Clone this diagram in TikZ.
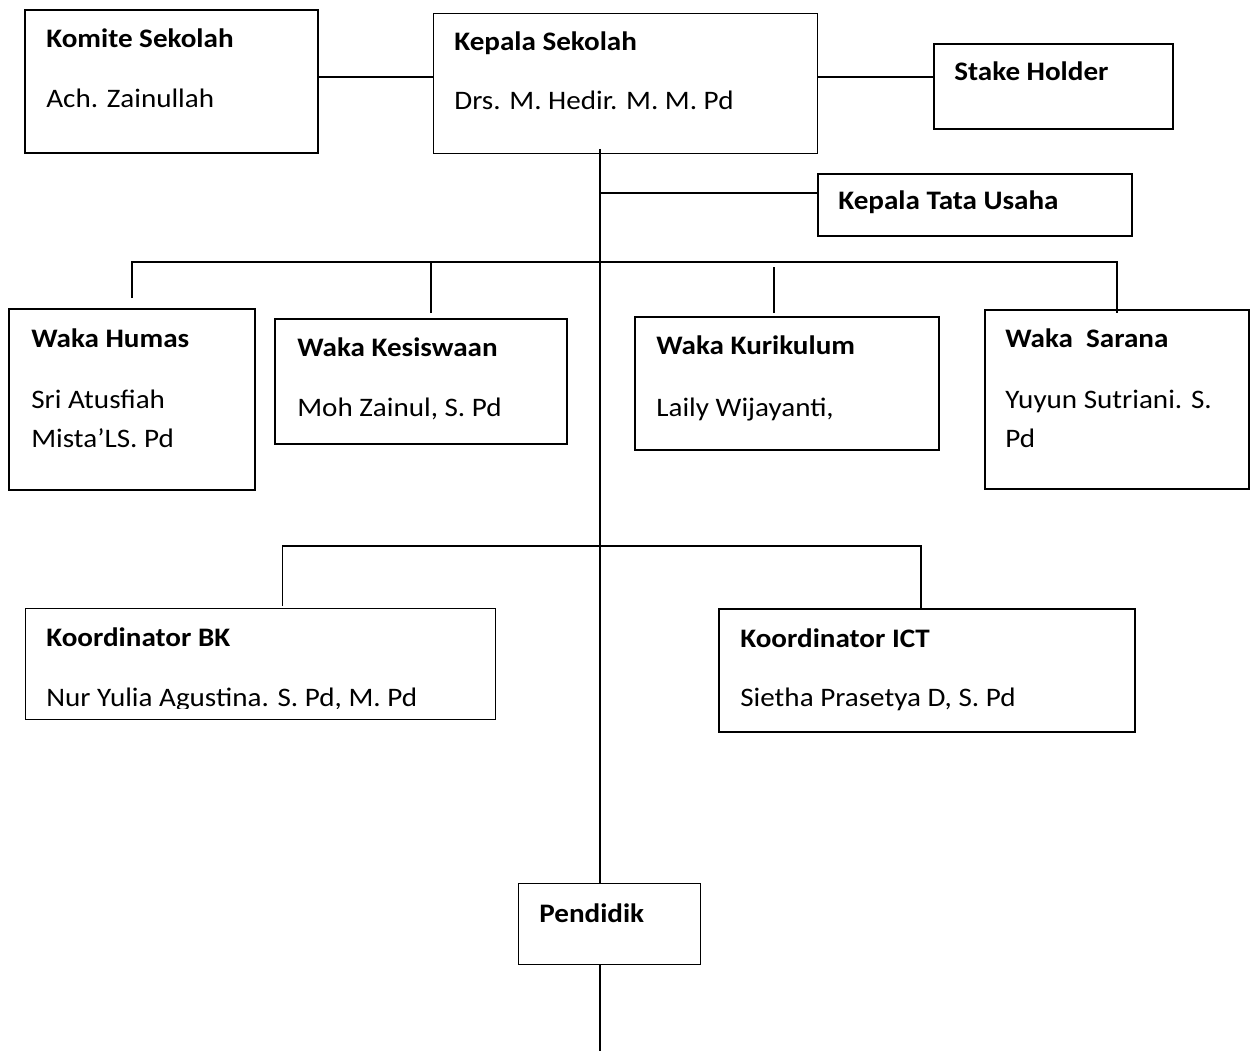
\documentclass[tikz,border=0pt]{standalone}
\usepackage{fontspec}
\setmainfont{Carlito}[FakeStretch=1.09]
\begin{document}
\begin{tikzpicture}[x=0.02cm,y=-0.02cm,
    box/.style={draw,line width=1.1pt,anchor=north west,inner sep=0pt},
    thinbox/.style={box,line width=0.7pt},
    link/.style={line width=0.7pt},
    heading/.style={anchor=base west,inner sep=0pt,font=\bfseries\fontsize{15.2}{18}\selectfont},
    person/.style={anchor=base west,inner sep=0pt,font=\fontsize{15.2}{18}\selectfont}]
    \useasboundingbox[fill=white] (0,0) rectangle (1255,1051);
    % boxes
    \node[box, minimum width=5.86cm, minimum height=2.86cm] (komite) at (24,9) {};
    \node[thinbox, minimum width=7.68cm, minimum height=2.80cm] (kepala) at (433,13) {};
    \node[box, minimum width=4.78cm, minimum height=1.70cm] (stake) at (933,43) {};
    \node[box, minimum width=6.28cm, minimum height=1.24cm] (tatausaha) at (817,173) {};
    \node[box, minimum width=4.92cm, minimum height=3.62cm] (humas) at (8,308) {};
    \node[box, minimum width=5.84cm, minimum height=2.50cm] (kesiswaan) at (274,318) {};
    \node[box, minimum width=6.08cm, minimum height=2.66cm] (kurikulum) at (634,316) {};
    \node[box, minimum width=5.28cm, minimum height=3.58cm] (sarana) at (984,309) {};
    \node[thinbox, minimum width=9.40cm, minimum height=2.22cm] (bk) at (25,608) {};
    \node[box, minimum width=8.32cm, minimum height=2.46cm] (ict) at (718,608) {};
    \node[thinbox, minimum width=3.64cm, minimum height=1.62cm] (pendidik) at (518,883) {};
    % texts
    \node[heading] (komiteT) at (46,48) {Komite Sekolah};
    \node[person] (komiteN) at (46,108) {Ach. Zainullah};
    \node[heading] (kepalaT) at (454,51) {Kepala Sekolah};
    \node[person] (kepalaN) at (454,110) {Drs. M. Hedir. M. M. Pd};
    \node[heading] (stakeT) at (954,81) {Stake Holder};
    \node[heading] (tatausahaT) at (838,210) {Kepala Tata Usaha};
    \node[heading] (humasT) at (31,347) {Waka Humas};
    \node[person] (humasA) at (31,408) {Sri Atusfiah};
    \node[person] (humasB) at (31,447) {Mista’LS. Pd};
    \node[heading] (kesiswaanT) at (297,356) {Waka Kesiswaan};
    \node[person] (kesiswaanN) at (297,416) {Moh Zainul, S. Pd};
    \node[heading] (kurikulumT) at (656,354) {Waka Kurikulum};
    \node[person] (kurikulumN) at (656,416) {Laily Wijayanti,};
    \node[heading] (saranaT) at (1005,347) {Waka\ \ Sarana};
    \node[person] (saranaA) at (1005,408) {Yuyun Sutriani. S.};
    \node[person] (saranaB) at (1005,447) {Pd};
    \node[heading] (bkT) at (46,646) {Koordinator BK};
    \begin{scope}
        \clip (25,608) rectangle (495,708);
        \node[person] (bkN) at (46,706) {Nur Yulia Agustina. S. Pd, M. Pd};
    \end{scope}
    \node[heading] (ictT) at (740,647) {Koordinator ICT};
    \node[person] (ictN) at (740,706) {Sietha Prasetya D, S. Pd};
    \node[heading] (pendidikT) at (539,922) {Pendidik};
    % connectors
    \coordinate (r1) at (0,77);
    \coordinate (r2) at (0,193);
    \coordinate (r3) at (0,262);
    \coordinate (r4) at (0,546);
    \coordinate (spine) at (600,149);
    \coordinate (foot) at (600,1051);
    \draw[link] (komite.east |- r1) -- (kepala.west |- r1);
    \draw[link] (kepala.east |- r1) -- (stake.west |- r1);
    \draw[link, line width=0.9pt] (spine) -- (pendidik.north -| spine);
    \draw[link] (spine |- r2) -- (tatausaha.west |- r2);
    \draw[link] ([yshift=0.2cm]humas.north) |- (sarana.north |- r3) -- ([yshift=-0.08cm]sarana.north);
    \draw[link] ([xshift=0.2cm,yshift=0.1cm]kesiswaan.north) -- ([xshift=0.2cm]kesiswaan.north |- r3);
    \draw[link] ([xshift=-0.26cm,yshift=0.06cm]kurikulum.north) -- ++(0,-46);
    \draw[link] ([xshift=0.44cm,yshift=0.04cm]bk.north) |- ([xshift=-0.12cm]ict.north |- r4) -- ([xshift=-0.12cm]ict.north);
    \draw[link, line width=0.9pt] (pendidik.south -| spine) -- (foot);
\end{tikzpicture}
\end{document}
